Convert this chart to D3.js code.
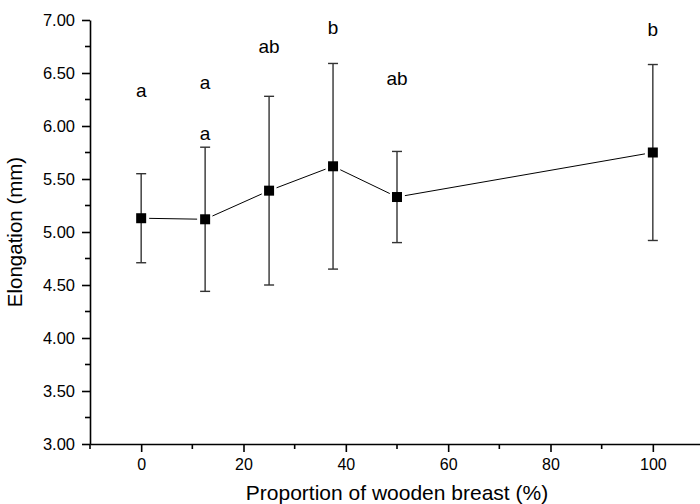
<!DOCTYPE html>
<html>
<head>
<meta charset="utf-8">
<script src="https://cdn.jsdelivr.net/npm/d3@7"></script>
<style>
	body { margin: 0; background: #fff; }
	svg { display: block; font-family: Arial, 'Liberation Sans', sans-serif; }
</style>
</head>
<body>
<div id="chart"></div>
<script>
// values
const proportion = [0, 12.5, 25, 37.5, 50, 100]
const elongation = [5.13, 5.12, 5.39, 5.62, 5.33, 5.75]
const errSD = [0.42, 0.68, 0.89, 0.97, 0.43, 0.83]

// significance letters (x, baseline value, text)
const letterX = [0, 12.5, 12.5, 25, 37.5, 50, 100]
const letterY = [6.27, 6.35, 5.87, 6.69, 6.87, 6.39, 6.85]
const letterText = ['a', 'a', 'a', 'ab', 'b', 'ab', 'b']

const xMajor = [0, 20, 40, 60, 80, 100]
const xMinor = [-10, 10, 30, 50, 70, 90]
const yMajor = [3, 3.5, 4, 4.5, 5, 5.5, 6, 6.5, 7]
const yMinor = [3.25, 3.75, 4.25, 4.75, 5.25, 5.75, 6.25, 6.75]

const xTitle = 'Proportion of wooden breast (%)'
const yTitle = 'Elongation (mm)'

const width = 700
const height = 504
const plotLeft = 90
const plotTop = 20
const plotBottom = 444

const scaleX = d3.scaleLinear().domain([-10, 110]).range([plotLeft, 704])
const scaleY = d3.scaleLinear().domain([3, 7]).range([plotBottom, plotTop])

const svg = d3.select('#chart').append('svg')
	.attr('width', width)
	.attr('height', height)

// axes
const axisLeft = d3.axisLeft(scaleY).tickValues(yMajor).tickFormat(d3.format('.2f')).tickSize(8).tickSizeOuter(0)
const axisBottom = d3.axisBottom(scaleX).tickValues(xMajor).tickFormat(d3.format('d')).tickSize(8).tickSizeOuter(0)

const gy = svg.append('g')
	.attr('transform', `translate(${plotLeft},0)`)
	.call(axisLeft)
gy.selectAll('text').attr('font-size', 16.5).attr('x', -15).attr('fill', '#000')

const gx = svg.append('g')
	.attr('transform', `translate(0,${plotBottom})`)
	.call(axisBottom)
gx.selectAll('text').attr('font-size', 16).attr('y', 15).attr('fill', '#000')

svg.selectAll('.domain, .tick line').attr('stroke', '#000').attr('stroke-width', 1.6)

// minor ticks
svg.append('g').selectAll('line')
	.data(yMinor)
	.join('line')
	.attr('x1', plotLeft - 5)
	.attr('x2', plotLeft)
	.attr('y1', d => scaleY(d))
	.attr('y2', d => scaleY(d))
	.attr('stroke', '#000')
	.attr('stroke-width', 1.6)

svg.append('g').selectAll('line')
	.data(xMinor)
	.join('line')
	.attr('x1', d => scaleX(d))
	.attr('x2', d => scaleX(d))
	.attr('y1', plotBottom)
	.attr('y2', plotBottom + 5)
	.attr('stroke', '#000')
	.attr('stroke-width', 1.6)

// titles
svg.append('text')
	.attr('x', 397)
	.attr('y', 500)
	.attr('text-anchor', 'middle')
	.attr('font-size', 21)
	.text(xTitle)

svg.append('text')
	.attr('transform', `translate(22,${(plotTop + plotBottom) / 2}) rotate(-90)`)
	.attr('text-anchor', 'middle')
	.attr('font-size', 20.5)
	.text(yTitle)

const points = proportion.map((p, i) => ({ x: p, y: elongation[i], sd: errSD[i] }))

// connecting line, with small gaps round the symbols like the original
const gap = 8
const segs = d3.pairs(points).map(([a, b]) => {
	const x1 = scaleX(a.x), y1 = scaleY(a.y)
	const x2 = scaleX(b.x), y2 = scaleY(b.y)
	const len = Math.hypot(x2 - x1, y2 - y1)
	const ux = (x2 - x1) / len, uy = (y2 - y1) / len
	return [x1 + ux * gap, y1 + uy * gap, x2 - ux * gap, y2 - uy * gap]
})

svg.append('g').selectAll('line')
	.data(segs)
	.join('line')
	.attr('x1', d => d[0])
	.attr('y1', d => d[1])
	.attr('x2', d => d[2])
	.attr('y2', d => d[3])
	.attr('stroke', '#000')
	.attr('stroke-width', 1)

// error bars
const errG = svg.append('g').attr('stroke', '#333').attr('stroke-width', 1.4)

errG.selectAll('.bar')
	.data(points)
	.join('line')
	.attr('class', 'bar')
	.attr('x1', d => scaleX(d.x))
	.attr('x2', d => scaleX(d.x))
	.attr('y1', d => scaleY(d.y + d.sd))
	.attr('y2', d => scaleY(d.y - d.sd))

const capW = 5
errG.selectAll('.cap-top')
	.data(points)
	.join('line')
	.attr('class', 'cap-top')
	.attr('x1', d => scaleX(d.x) - capW)
	.attr('x2', d => scaleX(d.x) + capW)
	.attr('y1', d => scaleY(d.y + d.sd))
	.attr('y2', d => scaleY(d.y + d.sd))

errG.selectAll('.cap-bottom')
	.data(points)
	.join('line')
	.attr('class', 'cap-bottom')
	.attr('x1', d => scaleX(d.x) - capW)
	.attr('x2', d => scaleX(d.x) + capW)
	.attr('y1', d => scaleY(d.y - d.sd))
	.attr('y2', d => scaleY(d.y - d.sd))

// markers
const size = 10
svg.append('g').selectAll('rect')
	.data(points)
	.join('rect')
	.attr('x', d => scaleX(d.x) - size / 2)
	.attr('y', d => scaleY(d.y) - size / 2)
	.attr('width', size)
	.attr('height', size)
	.attr('fill', '#000')

// letters
svg.append('g').selectAll('text')
	.data(letterText)
	.join('text')
	.attr('x', (d, i) => scaleX(letterX[i]))
	.attr('y', (d, i) => scaleY(letterY[i]))
	.attr('text-anchor', 'middle')
	.attr('font-size', 19)
	.text(d => d)
</script>
</body>
</html>
